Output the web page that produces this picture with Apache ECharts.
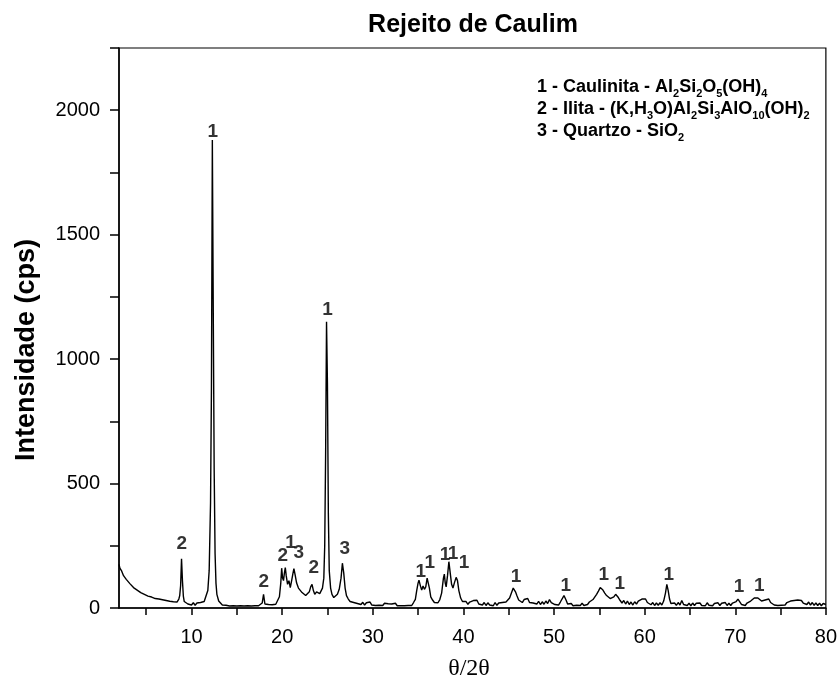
<!DOCTYPE html>
<html><head><meta charset="utf-8">
<script src="https://cdn.jsdelivr.net/npm/echarts@6/dist/echarts.min.js"></script>
<style>html,body{margin:0;padding:0;background:#fff}#c{width:840px;height:690px}</style>
</head><body><div id="c"></div><script>
const chartTitle = 'Rejeito de Caulim';
const xAxisName = 'θ/2θ';
const yAxisName = 'Intensidade (cps)';
const xTickValues = [5,10,15,20,25,30,35,40,45,50,55,60,65,70,75,80];
const xLabelValues = [10,20,30,40,50,60,70,80];

const twoTheta = [
2.0,2.1,2.2,2.3,2.4,2.5,2.6,2.8,3.0,3.2,
3.4,3.6,3.8,4.0,4.2,4.4,4.6,4.8,5.0,5.2,
5.4,5.6,5.8,6.0,6.2,6.4,6.6,6.8,7.0,7.2,
7.4,7.6,7.8,8.0,8.2,8.4,8.6,8.7,8.8,8.9,
9.0,9.1,9.2,9.4,9.6,9.8,10.0,10.2,10.4,10.6,
10.8,11.0,11.2,11.4,11.6,11.8,11.95,12.1,12.2,12.3,
12.4,12.5,12.6,12.7,12.8,13.0,13.2,13.4,13.6,13.8,
14.0,14.2,14.4,14.6,14.8,15.0,15.2,15.4,15.6,15.8,
16.0,16.2,16.4,16.6,16.8,17.0,17.2,17.4,17.6,17.8,
17.95,18.1,18.3,18.5,18.7,18.9,19.1,19.3,19.5,19.7,
19.85,19.95,20.05,20.15,20.25,20.35,20.45,20.6,20.75,20.9,
21.05,21.2,21.3,21.45,21.6,21.8,22.0,22.2,22.4,22.6,
22.8,23.0,23.15,23.3,23.45,23.6,23.8,24.0,24.15,24.3,
24.45,24.6,24.7,24.8,24.9,25.0,25.1,25.2,25.35,25.5,
25.7,25.9,26.1,26.3,26.5,26.65,26.8,26.95,27.1,27.3,
27.5,27.7,27.9,28.1,28.3,28.5,28.7,28.9,29.1,29.3,
29.5,29.7,29.9,30.1,30.3,30.5,30.7,30.9,31.1,31.3,
31.5,31.7,31.9,32.1,32.3,32.5,32.7,32.9,33.1,33.3,
33.5,33.7,33.9,34.1,34.3,34.5,34.7,34.85,35.0,35.1,
35.25,35.4,35.55,35.7,35.85,36.0,36.1,36.25,36.4,36.6,
36.8,37.0,37.2,37.4,37.6,37.8,37.9,38.0,38.1,38.25,
38.4,38.55,38.7,38.85,39.0,39.2,39.35,39.5,39.7,39.9,
40.1,40.3,40.5,40.7,40.9,41.1,41.3,41.5,41.7,41.9,
42.1,42.3,42.5,42.7,42.9,43.1,43.3,43.5,43.7,43.9,
44.1,44.3,44.5,44.7,44.9,45.1,45.3,45.5,45.6,45.75,
45.9,46.1,46.3,46.5,46.7,46.9,47.1,47.3,47.5,47.7,
47.9,48.1,48.3,48.5,48.7,48.9,49.1,49.3,49.5,49.7,
49.9,50.1,50.3,50.5,50.7,50.9,51.1,51.2,51.35,51.5,
51.7,51.9,52.1,52.3,52.5,52.7,52.9,53.1,53.3,53.5,
53.7,53.9,54.1,54.3,54.5,54.7,54.9,55.1,55.25,55.4,
55.6,55.8,56.0,56.2,56.4,56.6,56.8,56.95,57.1,57.3,
57.5,57.7,57.9,58.1,58.3,58.5,58.7,58.9,59.1,59.3,
59.5,59.7,59.9,60.1,60.3,60.5,60.7,60.9,61.1,61.3,
61.5,61.7,61.9,62.1,62.3,62.45,62.6,62.75,62.9,63.1,
63.3,63.5,63.7,63.9,64.1,64.3,64.5,64.7,64.9,65.1,
65.3,65.5,65.7,65.9,66.1,66.3,66.5,66.7,66.9,67.1,
67.3,67.5,67.7,67.9,68.1,68.3,68.5,68.7,68.9,69.1,
69.3,69.5,69.7,69.9,70.1,70.3,70.5,70.7,70.9,71.1,
71.3,71.5,71.7,71.9,72.1,72.3,72.5,72.7,72.9,73.1,
73.3,73.5,73.7,73.9,74.1,74.3,74.5,74.7,74.9,75.1,
75.3,75.5,75.7,75.9,76.1,76.3,76.5,76.7,76.9,77.1,
77.3,77.5,77.7,77.9,78.1,78.3,78.5,78.7,78.9,79.1,
79.3,79.5,79.7,79.9,80.0
];
const intensity = [
175,160,165,148,142,130,132,115,110,98,
95,82,84,72,74,62,66,55,58,48,
54,44,48,38,45,36,41,33,38,30,
35,27,33,25,32,24,36,50,90,198,
110,48,26,30,16,24,12,21,11,20,
12,22,14,26,34,70,150,420,880,1880,
1200,560,220,100,55,28,24,12,20,11,
17,8,15,9,13,8,14,9,13,8,
13,9,14,8,13,9,15,9,14,20,
55,16,9,14,8,13,9,15,20,45,
100,160,120,110,140,162,130,95,110,82,
110,140,158,130,100,80,72,62,55,50,
58,65,85,95,70,55,65,72,58,62,
80,120,250,620,1150,900,380,150,80,55,
42,48,55,75,120,180,140,80,50,36,
26,32,22,28,18,26,14,23,12,21,
13,24,12,19,10,18,11,17,10,19,
11,17,9,16,10,19,9,15,9,14,
9,15,10,17,10,22,35,70,100,112,
90,72,88,75,85,120,128,80,45,32,
22,30,21,34,60,120,136,100,85,130,
186,140,95,80,100,123,110,70,40,26,
18,26,15,24,17,30,22,31,16,24,
12,22,10,21,12,20,9,22,11,20,
12,22,14,24,26,40,60,80,85,65,
50,32,36,22,34,26,38,22,30,20,
28,16,27,14,25,15,28,18,34,22,
28,14,22,12,24,30,50,48,30,16,
10,18,9,17,11,18,10,19,10,18,
14,24,22,34,36,55,68,82,85,72,
60,50,52,38,46,45,55,52,42,30,
20,30,16,28,14,24,12,25,16,28,
24,36,28,36,22,28,13,22,10,20,
11,21,12,28,60,95,70,36,18,12,
20,11,22,12,30,14,22,10,19,9,
20,10,19,11,20,10,18,9,21,11,
19,9,18,11,21,10,19,11,22,10,
19,10,20,12,26,36,28,14,18,10,
20,14,28,26,40,44,40,34,28,22,
32,24,36,22,24,12,20,10,18,11,
19,12,22,16,28,20,30,22,32,24,
30,20,28,14,24,12,22,11,20,10,
19,9,18,10,14
];

const peakLabelX = [8.92,12.34,17.97,20.07,20.92,21.83,23.5,25.02,26.92,35.3,36.29,37.98,38.87,40.08,45.8,51.3,55.5,57.27,62.67,70.43,72.64];
const peakLabelY = [260,1912,107,208,261,221,163,1200,239,145,181,215,219,181,125,91,135,98,135,87,91];
const peakLabelText = ['2','1','2','2','1','3','2','1','3','1','1','1','1','1','1','1','1','1','1','1','1'];

const legendLines = [
  '{n|1 - Caulinita - Al}{s|2}{n|Si}{s|2}{n|O}{s|5}{n|(OH)}{s|4}',
  '{n|2 - Ilita - (K,H}{s|3}{n|O)Al}{s|2}{n|Si}{s|3}{n|AlO}{s|10}{n|(OH)}{s|2}',
  '{n|3 - Quartzo - SiO}{s|2}'
];

const lineData = twoTheta.map((x, i) => [x, intensity[i]]);
const labelData = peakLabelX.map((x, i) => [x, peakLabelY[i], peakLabelText[i]]);

const FONT = 'Liberation Sans, Arial, sans-serif';
const chart = echarts.init(document.getElementById('c'), null, {renderer: 'canvas'});
const legendRich = {
  n: {fontFamily: FONT, fontWeight: 'bold', fontSize: 18, fill: '#000'},
  s: {fontFamily: FONT, fontWeight: 'bold', fontSize: 11, fill: '#000', padding: [13, 0, 0, 0]}
};
chart.setOption({
  animation: false,
  backgroundColor: '#fff',
  grid: {left: 119, right: 13, top: 48, bottom: 82, show: true, borderColor: '#000', borderWidth: 1.2},
  xAxis: {
    type: 'value', min: 2, max: 80,
    axisLine: {show: true, lineStyle: {color: '#000', width: 1.5}},
    axisTick: {show: true, customValues: xTickValues, length: 7, lineStyle: {color: '#000', width: 1.5}},
    axisLabel: {customValues: xLabelValues, fontSize: 20, color: '#000', fontFamily: FONT, margin: 19},
    splitLine: {show: false}
  },
  yAxis: {
    type: 'value', min: 0, max: 2250, interval: 250,
    axisLine: {show: true, lineStyle: {color: '#000', width: 1.5}},
    axisTick: {show: true, length: 9, lineStyle: {color: '#000', width: 1.5}},
    axisLabel: {formatter: v => (v % 500 === 0 ? String(v) : ''), fontSize: 20, color: '#000', fontFamily: FONT, margin: 19},
    splitLine: {show: false}
  },
  series: [
    {type: 'line', data: lineData, showSymbol: false, symbol: 'none', lineStyle: {color: '#000', width: 1.4}, silent: true},
    {type: 'scatter', data: labelData, symbolSize: 0, silent: true, z: 5,
     label: {show: true, position: 'inside', formatter: p => p.data[2], fontFamily: FONT, fontWeight: 'bold', fontSize: 19, color: '#000'}}
  ],
  graphic: [
    {type: 'text', x: 473, y: 25, style: {text: chartTitle, fontFamily: FONT, fontWeight: 'bold', fontSize: 25, fill: '#000', align: 'center', verticalAlign: 'middle'}},
    {type: 'text', x: 27, y: 350, rotation: Math.PI / 2, style: {text: yAxisName, fontFamily: FONT, fontWeight: 'bold', fontSize: 27, fill: '#000', align: 'center', verticalAlign: 'middle'}},
    {type: 'text', x: 469, y: 669, style: {text: xAxisName, fontFamily: 'Liberation Serif, Times New Roman, serif', fontSize: 24, fill: '#000', align: 'center', verticalAlign: 'middle'}},
    {type: 'text', x: 537, y: 87, style: {text: legendLines[0], rich: legendRich, align: 'left', verticalAlign: 'middle'}},
    {type: 'text', x: 537, y: 109, style: {text: legendLines[1], rich: legendRich, align: 'left', verticalAlign: 'middle'}},
    {type: 'text', x: 537, y: 131, style: {text: legendLines[2], rich: legendRich, align: 'left', verticalAlign: 'middle'}}
  ]
});
</script></body></html>
